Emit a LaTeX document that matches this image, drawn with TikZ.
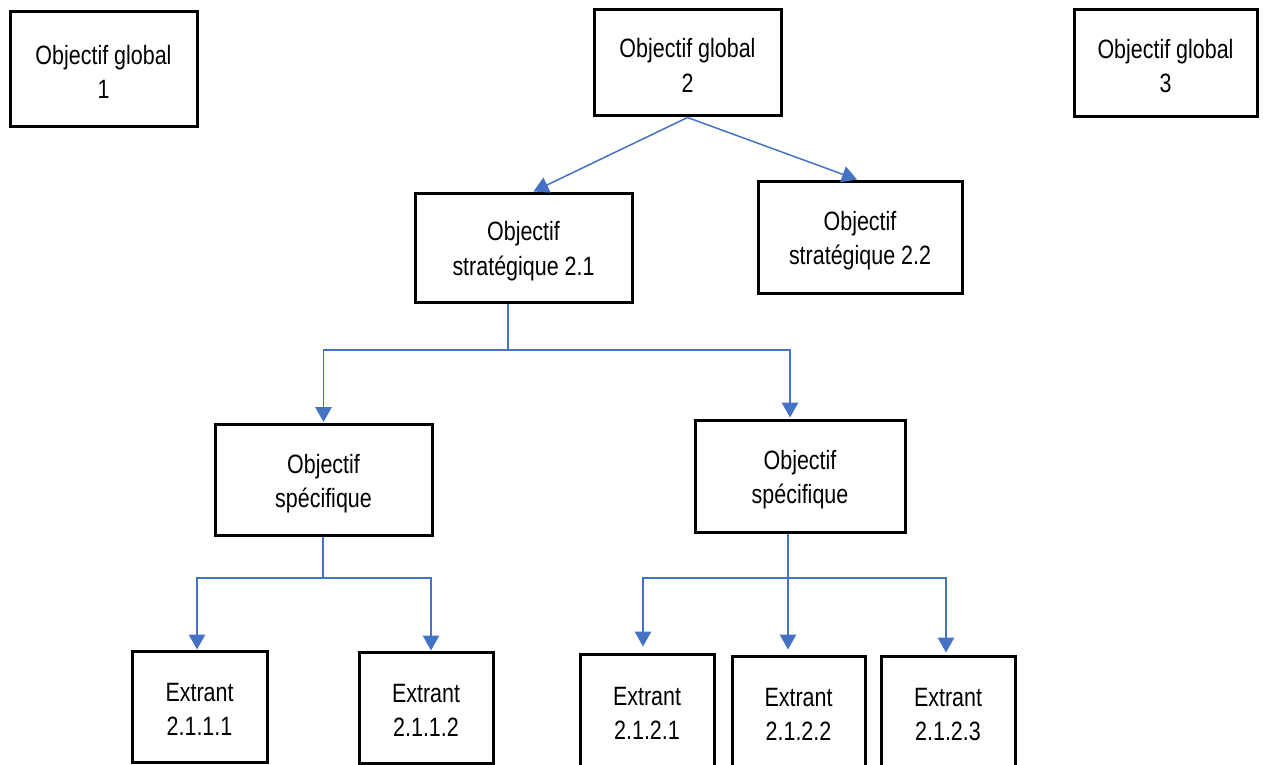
\documentclass[tikz,border=0pt]{standalone}
\usepackage{fontspec}
\newfontfamily\boxfont[FakeStretch=0.81]{Liberation Sans}
\usetikzlibrary{arrows.meta}
\definecolor{linkblue}{HTML}{4472C4}
% uniform line metrics inside the boxes
\newcommand{\boxstrut}{\rule[-2pt]{0pt}{28pt}}
\newcommand{\twolines}[2]{\boxstrut #1\\\boxstrut #2}
\tikzset{
  box/.style={draw=black, line width=3pt, inner sep=0pt, align=center,
    font={\boxfont\fontsize{26.5}{34.5}\selectfont}},
  wire/.style={draw=linkblue, line width=1.5pt},
  wirearrow/.style={wire, -{Triangle[width=16.5pt,length=15pt]}}
}
\begin{document}
\begin{tikzpicture}[x=1pt,y=-1pt]
\useasboundingbox (0,0) rectangle (1263,765);

% global objectives
\node[box, minimum width=187pt, minimum height=115pt] (OG1) at (103.5,69.5) {\twolines{Objectif global}{1}};
\node[box, minimum width=187pt, minimum height=106pt] (OG2) at (687.5,63) {\twolines{Objectif global}{2}};
\node[box, minimum width=183pt, minimum height=107pt] (OG3) at (1165.5,63.5) {\twolines{Objectif global}{3}};

% strategic objectives
\node[box, minimum width=217pt, minimum height=109pt] (OS21) at (523.5,247.5) {\twolines{Objectif}{stratégique 2.1}};
\node[box, minimum width=204pt, minimum height=112pt] (OS22) at (860,237) {\twolines{Objectif}{stratégique 2.2}};

% specific objectives
\node[box, minimum width=217pt, minimum height=111pt] (OSp1) at (323.5,480) {\twolines{Objectif}{spécifique}};
\node[box, minimum width=210pt, minimum height=112pt] (OSp2) at (800,476) {\twolines{Objectif}{spécifique}};

% outputs
\node[box, minimum width=135pt, minimum height=111pt] (E2111) at (199.5,706.5) {\twolines{Extrant}{2.1.1.1}};
\node[box, minimum width=134pt, minimum height=111pt] (E2112) at (426,707.5) {\twolines{Extrant}{2.1.1.2}};
\node[box, minimum width=134pt, minimum height=113pt] (E2121) at (647,710.5) {\twolines{Extrant}{2.1.2.1}};
\node[box, minimum width=133pt, minimum height=111pt] (E2122) at (798.5,711.5) {\twolines{Extrant}{2.1.2.2}};
\node[box, minimum width=134pt, minimum height=111pt] (E2123) at (948,711.5) {\twolines{Extrant}{2.1.2.3}};

% global objective 2 -> strategic objectives
\draw[wirearrow] (OG2.south) -- ([xshift=10pt]OS21.north);
\draw[wirearrow] (OG2.south) -- ([xshift=-3pt]OS22.north);

% strategic objective 2.1 -> specific objectives
\coordinate (busA) at (508,350);
\draw[wire] ([xshift=-15.5pt]OS21.south) -- (busA);
\draw[wirearrow] (busA) -| ([yshift=1pt]OSp1.north);
\draw[wirearrow] (busA) -| ([xshift=-10pt,yshift=1pt]OSp2.north);

% first specific objective -> outputs
\coordinate (busB) at (323,578);
\draw[wire] ([xshift=-0.5pt]OSp1.south) -- (busB);
\draw[wirearrow] (busB) -| ([xshift=-2.5pt]E2111.north);
\draw[wirearrow] (busB) -| ([xshift=5pt]E2112.north);

% second specific objective -> outputs
\coordinate (busC) at (788,578);
\draw[wire] ([xshift=-12pt]OSp2.south) -- (busC);
\draw[wirearrow] (busC) -| ([xshift=-4pt,yshift=6pt]E2121.north);
\draw[wirearrow] (busC) -| ([xshift=-10.5pt,yshift=5pt]E2122.north);
\draw[wirearrow] (busC) -| ([xshift=-2pt,yshift=2pt]E2123.north);
\end{tikzpicture}
\end{document}
